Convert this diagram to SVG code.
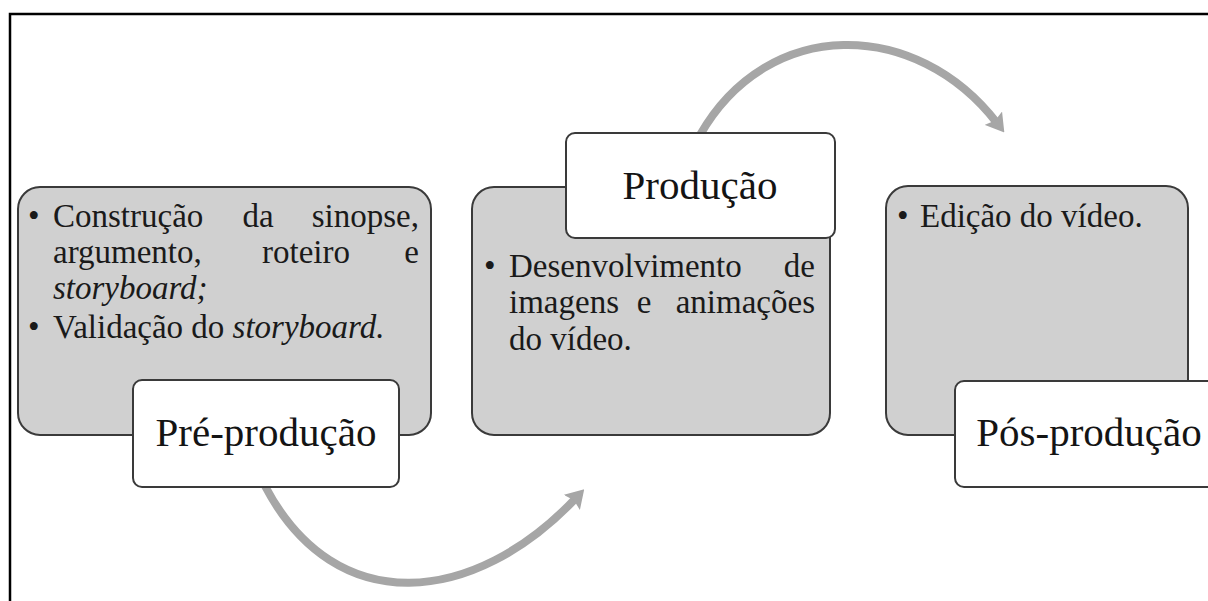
<svg xmlns="http://www.w3.org/2000/svg" width="1208" height="601" viewBox="0 0 1208 601">
<defs>
<style>
.frame{fill:#ffffff;stroke:#000000;stroke-width:2.5}
.panel{fill:#d0d0d0;stroke:#3a3a3a;stroke-width:2}
.label{fill:#ffffff;stroke:#3a3a3a;stroke-width:2}
.title{font-family:"Liberation Serif","Times New Roman",serif;font-size:41px;fill:#141414;text-anchor:middle}
.body{font-family:"Liberation Serif","Times New Roman",serif;font-size:33px;fill:#1a1a1a}
.it{font-style:italic}
.arc{fill:none;stroke:#a6a6a6;stroke-width:8}
</style>
<marker id="head" markerUnits="userSpaceOnUse" markerWidth="18" markerHeight="22" viewBox="0 0 18 22" refX="6" refY="11" orient="auto">
<path d="M0,0 L18,11 L0,22 L3,11 Z" fill="#a6a6a6"/>
</marker>
</defs>
<rect class="frame" x="10" y="14" width="1210" height="600"/>
<g id="connectors">
<path class="arc" d="M265,486 C336,621 475,605 576,498" marker-end="url(#head)"/>
<path class="arc" d="M700,135 C768,16 916,18 997,123" marker-end="url(#head)"/>
</g>
<g id="node-pre">
<rect class="panel" x="18" y="187" width="413" height="248" rx="22"/>
<text class="body" x="28" y="227">•</text>
<text class="body" x="53" y="227">Construção</text>
<text class="body" x="258" y="227" text-anchor="middle">da</text>
<text class="body" x="419" y="227" text-anchor="end">sinopse,</text>
<text class="body" x="53" y="263">argumento,</text>
<text class="body" x="306" y="263" text-anchor="middle">roteiro</text>
<text class="body" x="419" y="263" text-anchor="end">e</text>
<text class="body it" x="53" y="299">storyboard;</text>
<text class="body" x="28" y="338">•</text>
<text class="body" x="53" y="338">Validação do <tspan class="it">storyboard.</tspan></text>
<rect class="label" x="133" y="380" width="266" height="107" rx="9"/>
<text class="title" x="266" y="446">Pré-produção</text>
</g>
<g id="node-prod">
<rect class="panel" x="472" y="187" width="358" height="248" rx="22"/>
<text class="body" x="484" y="277">•</text>
<text class="body" x="509" y="277">Desenvolvimento</text>
<text class="body" x="815" y="277" text-anchor="end">de</text>
<text class="body" x="509" y="313">imagens</text>
<text class="body" x="644" y="313" text-anchor="middle">e</text>
<text class="body" x="815" y="313" text-anchor="end">animações</text>
<text class="body" x="509" y="350">do vídeo.</text>
<rect class="label" x="566" y="133" width="269" height="105" rx="9"/>
<text class="title" x="700" y="199">Produção</text>
</g>
<g id="node-pos">
<rect class="panel" x="886" y="186" width="302" height="249" rx="22"/>
<text class="body" x="897" y="227">•</text>
<text class="body" x="920" y="227">Edição do vídeo.</text>
<rect class="label" x="955" y="381" width="268" height="106" rx="9"/>
<text class="title" x="1089" y="446">Pós-produção</text>
</g>
</svg>
